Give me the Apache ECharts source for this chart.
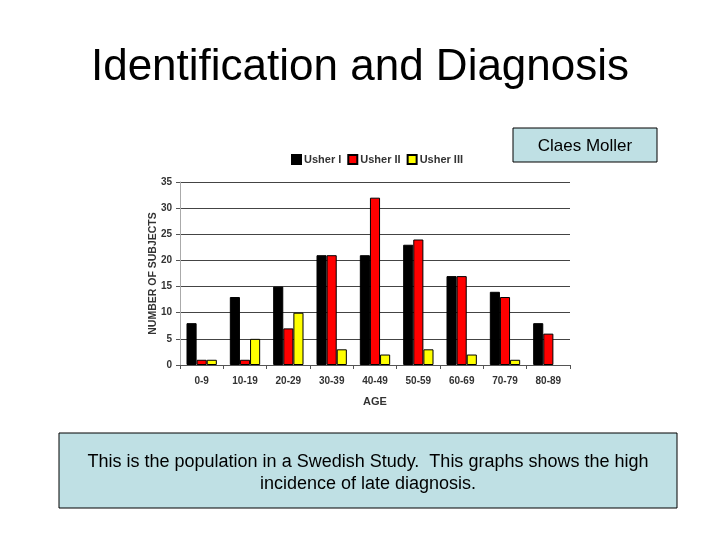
<!DOCTYPE html>
<html>
<head>
<meta charset="utf-8">
<script src="https://cdn.jsdelivr.net/npm/echarts@6/dist/echarts.min.js"></script>
<style>
  html, body { margin: 0; padding: 0; background: #fff; }
  #main { width: 720px; height: 540px; }
</style>
</head>
<body>
<div id="main"></div>
<script>
const ageGroups = ['0-9', '10-19', '20-29', '30-39', '40-49', '50-59', '60-69', '70-79', '80-89'];
const usher1 = [8, 13, 15, 21, 21, 23, 17, 14, 8];
const usher2 = [1, 1, 7, 21, 32, 24, 17, 13, 6];
const usher3 = [1, 5, 10, 3, 2, 3, 2, 1, 0];

const font = 'Liberation Sans, Arial, sans-serif';
const boxFill = '#bfe0e4';

const chart = echarts.init(document.getElementById('main'));

function barSeries(name, data, color) {
    return {
        name: name,
        type: 'bar',
        // zero-height bars get no outline, like the original
        data: data.map(v => v === 0 ? { value: v, itemStyle: { borderWidth: 0 } } : v),
        barGap: '0%',
        barCategoryGap: '30%',
        itemStyle: { color: color, borderColor: '#000', borderWidth: 1 }
    };
}

const option = {
    backgroundColor: '#fff',
    animation: false,
    title: {
        text: 'Identification and Diagnosis',
        left: 'center',
        top: 41,
        textStyle: { fontFamily: font, fontSize: 44, fontWeight: 'normal', color: '#000' }
    },
    legend: {
        top: 149,
        left: 286,
        itemWidth: 9,
        itemHeight: 9,
        itemGap: 6,
        icon: 'rect',
        textStyle: { fontFamily: font, fontSize: 11, fontWeight: 'bold', color: '#333', padding: [0, 0, 0, -2] },
        data: ['Usher I', 'Usher II', 'Usher III']
    },
    grid: { left: 180, right: 150, top: 182, bottom: 175 },
    xAxis: {
        type: 'category',
        data: ageGroups,
        name: 'AGE',
        nameLocation: 'middle',
        nameGap: 31,
        nameTextStyle: { fontFamily: font, fontSize: 11, fontWeight: 'bold', color: '#333' },
        axisLine: { lineStyle: { color: '#555' } },
        axisTick: { show: true, length: 4, lineStyle: { color: '#555' } },
        axisLabel: { margin: 11, fontFamily: font, fontSize: 10, fontWeight: 'bold', color: '#333' }
    },
    yAxis: {
        type: 'value',
        min: 0,
        max: 35,
        interval: 5,
        name: 'NUMBER OF SUBJECTS',
        nameLocation: 'middle',
        nameGap: 21,
        nameMoveOverlap: false,
        nameTextStyle: { fontFamily: font, fontSize: 10.5, fontWeight: 'bold', color: '#333' },
        axisLine: { show: true, lineStyle: { color: '#aaa' } },
        axisTick: { show: true, length: 4, lineStyle: { color: '#555' } },
        axisLabel: { margin: 8, fontFamily: font, fontSize: 10, fontWeight: 'bold', color: '#333' },
        splitLine: { lineStyle: { color: '#444', width: 1 } }
    },
    series: [
        barSeries('Usher I', usher1, '#000000'),
        barSeries('Usher II', usher2, '#ff0000'),
        barSeries('Usher III', usher3, '#ffff00')
    ],
    graphic: [
        {
            type: 'rect',
            shape: { x: 513, y: 128, width: 144, height: 34 },
            style: { fill: boxFill, stroke: '#000', lineWidth: 1 }
        },
        {
            type: 'text',
            x: 585, y: 146,
            style: { text: 'Claes Moller', font: '17px ' + font, fill: '#000', align: 'center', verticalAlign: 'middle' }
        },
        {
            type: 'rect',
            shape: { x: 59, y: 433, width: 618, height: 75 },
            style: { fill: boxFill, stroke: '#000', lineWidth: 1 }
        },
        {
            type: 'text',
            x: 368, y: 473,
            style: {
                text: 'This is the population in a Swedish Study.  This graphs shows the high\nincidence of late diagnosis.',
                font: '18px ' + font,
                lineHeight: 22,
                fill: '#000',
                align: 'center',
                verticalAlign: 'middle'
            }
        }
    ]
};

chart.setOption(option);
</script>
</body>
</html>
